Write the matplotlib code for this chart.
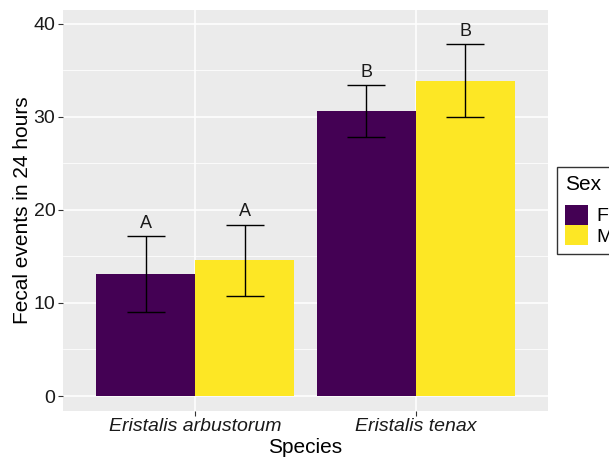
import numpy as np
import matplotlib
matplotlib.use("Agg")
import matplotlib.pyplot as plt
from matplotlib.patches import Patch

plt.rcParams["font.family"] = ["Liberation Sans", "DejaVu Sans"]

species = ["Eristalis arbustorum", "Eristalis tenax"]
sexes = ["F", "M"]
means = {"F": [13.1, 30.6], "M": [14.6, 33.9]}
errs = {"F": [4.05, 2.8], "M": [3.8, 3.9]}
letters = {"F": ["A", "B"], "M": ["A", "B"]}
colors = {"F": "#440154", "M": "#FDE725"}

fig = plt.figure(figsize=(6.09, 4.59), dpi=100)
ax = fig.add_axes([63 / 609, 1 - 410.7 / 459, 485 / 609, 400.7 / 459])
ax.set_facecolor("#EBEBEB")

x = np.arange(1, len(species) + 1)
w = 0.45
for i, s in enumerate(sexes):
    pos = x + (i - 0.5) * w
    ax.bar(pos, means[s], width=w, color=colors[s], zorder=2)
    ax.errorbar(pos, means[s], yerr=errs[s], fmt="none", ecolor="black",
                elinewidth=1.0, capsize=13.5, capthick=1.0, zorder=3)
    for p, m, e, lab in zip(pos, means[s], errs[s], letters[s]):
        ax.text(p, m + e + 0.5, lab, ha="center", va="bottom", fontsize=13,
                color="#1a1a1a", zorder=4)

ax.set_xlim(0.4, 2.6)
ax.set_ylim(-1.58, 41.5)
ax.set_yticks([0, 10, 20, 30, 40])
ax.set_yticks([5, 15, 25, 35], minor=True)
ax.set_xticks(x)
ax.set_xticklabels(species, fontstyle="italic")
ax.grid(which="major", color="white", linewidth=1.1, zorder=0)
ax.grid(which="minor", axis="y", color="white", linewidth=0.55, zorder=0)
ax.set_axisbelow(True)
for sp in ax.spines.values():
    sp.set_visible(False)
ax.tick_params(which="major", length=3.5, width=0.8, color="#333333",
               labelsize=14, labelcolor="#1a1a1a", pad=2)
ax.tick_params(which="minor", length=0)
ax.set_xlabel("Species", fontsize=15, labelpad=2)
ax.set_ylabel("Fecal events in 24 hours", fontsize=15, labelpad=1)

handles = [Patch(facecolor=colors[s], edgecolor="none", label=s) for s in sexes]
leg = fig.legend(handles=handles, title="Sex", loc="upper left",
                 bbox_to_anchor=(557 / 609, 1 - 167 / 459), fontsize=14,
                 title_fontsize=15, frameon=True, fancybox=False,
                 borderaxespad=0, handlelength=1.2, handleheight=1.2,
                 handletextpad=0.4, labelspacing=0.0, borderpad=0.4)
leg.get_frame().set_edgecolor("black")
leg.get_frame().set_linewidth(1.0)
leg._legend_box.align = "left"
leg._legend_box.sep = 8

fig.savefig("out.png", dpi=100)
